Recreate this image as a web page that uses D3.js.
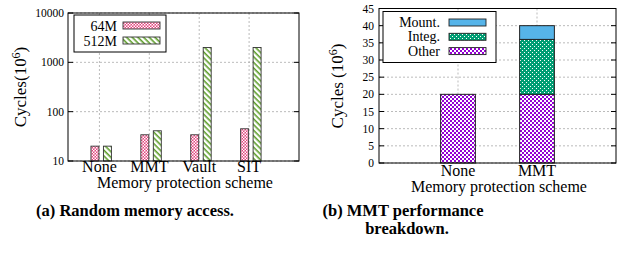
<!DOCTYPE html>
<html>
<head>
<meta charset="utf-8">
<script src="https://cdn.jsdelivr.net/npm/d3@7"></script>
<style>
  body { margin: 0; background: #fff; }
  svg { display: block; font-family: "Liberation Serif", "DejaVu Serif", serif; }
</style>
</head>
<body>
<svg id="fig" width="622" height="254"></svg>
<script>
// panel (a) data
const schemesA = ["None", "MMT", "Vault", "SIT"];
const sizes = ["64M", "512M"];
const cycles64 = [20, 34, 34, 45];
const cycles512 = [20, 41, 2000, 2000];
const logTicks = [10, 100, 1000, 10000];

// panel (b) data
const schemesB = ["None", "MMT"];
const parts = ["Other", "Integ.", "Mount."];
const otherVals = [20, 20];
const integVals = [0, 16];
const mountVals = [0, 4];
const linTicks = [0, 5, 10, 15, 20, 25, 30, 35, 40, 45];

const svg = d3.select("#fig");
const defs = svg.append("defs");

// fill patterns that mimic the gnuplot look
function checker(id, bg, fg, size, dot) {
    const p = defs.append("pattern").attr("id", id)
        .attr("patternUnits", "userSpaceOnUse")
        .attr("width", size).attr("height", size);
    p.append("rect").attr("width", size).attr("height", size).attr("fill", bg);
    p.append("rect").attr("width", dot).attr("height", dot).attr("fill", fg);
    p.append("rect").attr("x", size / 2).attr("y", size / 2).attr("width", dot).attr("height", dot).attr("fill", fg);
}
checker("pink", "#e4467f", "#fff", 3, 1.5);
checker("purple", "#9400d3", "#fff", 4, 2);
checker("teal", "#009e73", "#fff", 4, 1);

const stripe = defs.append("pattern").attr("id", "stripe")
    .attr("patternUnits", "userSpaceOnUse")
    .attr("width", 4).attr("height", 4)
    .attr("patternTransform", "rotate(45)");
stripe.append("rect").attr("width", 4).attr("height", 4).attr("fill", "#fff");
stripe.append("rect").attr("width", 4).attr("height", 1.6).attr("fill", "#5f9e2c");

const fillA = { "64M": "url(#pink)", "512M": "url(#stripe)" };
const fillB = { "Other": "url(#purple)", "Integ.": "url(#teal)", "Mount.": "#56b4e9" };

function frame(g, x0, x1, y0, y1) {
    g.append("rect").attr("x", x0).attr("y", y0)
        .attr("width", x1 - x0).attr("height", y1 - y0)
        .attr("fill", "none").attr("stroke", "#000").attr("stroke-width", 1);
}

function gridLine(g, x1, y1, x2, y2) {
    g.append("line").attr("x1", x1).attr("y1", y1).attr("x2", x2).attr("y2", y2)
        .attr("stroke", "#aaa").attr("stroke-width", 0.8).attr("stroke-dasharray", "2,2");
}

// ---------- panel (a): random memory access ----------
{
    const g = svg.append("g");
    const x = d3.scaleLinear().domain([-0.63, 4]).range([68, 299]);
    const y = d3.scaleLog().domain([10, 10000]).range([161, 13]);

    logTicks.forEach(t => gridLine(g, 68, y(t), 299, y(t)));
    schemesA.forEach((s, i) => gridLine(g, x(i), 13, x(i), 161));

    const bw = 0.16;
    const offs = [-0.09, 0.16];
    [cycles64, cycles512].forEach((vals, k) => {
        g.selectAll(null).data(vals).join("rect")
            .attr("x", (d, i) => x(i + offs[k] - bw / 2))
            .attr("width", x(bw) - x(0))
            .attr("y", d => y(d))
            .attr("height", d => y(10) - y(d))
            .attr("fill", fillA[sizes[k]])
            .attr("stroke", "#333").attr("stroke-width", 0.9);
    });

    frame(g, 68, 299, 13, 161);
    logTicks.forEach(t => {
        g.append("line").attr("x1", 68).attr("x2", 73).attr("y1", y(t)).attr("y2", y(t)).attr("stroke", "#000");
        g.append("line").attr("x1", 294).attr("x2", 299).attr("y1", y(t)).attr("y2", y(t)).attr("stroke", "#000");
    });

    g.selectAll(null).data(logTicks).join("text")
        .attr("x", 64).attr("y", d => y(d) + 4)
        .attr("text-anchor", "end").attr("font-size", 11.5)
        .text(d => d);

    g.selectAll(null).data(schemesA).join("text")
        .attr("x", (d, i) => x(i)).attr("y", 172)
        .attr("text-anchor", "middle").attr("font-size", 16)
        .text(d => d);

    g.append("text").attr("x", 185).attr("y", 188)
        .attr("text-anchor", "middle").attr("font-size", 16)
        .text("Memory protection scheme");

    const yl = g.append("text").attr("transform", "translate(26,87) rotate(-90)")
        .attr("text-anchor", "middle").attr("font-size", 17);
    yl.append("tspan").text("Cycles(10");
    yl.append("tspan").attr("dy", -6).attr("font-size", 12).text("6");
    yl.append("tspan").attr("dy", 6).text(")");

    // legend
    const lg = g.append("g");
    lg.append("rect").attr("x", 74).attr("y", 15).attr("width", 92).attr("height", 37)
        .attr("fill", "#fff").attr("stroke", "#000");
    sizes.forEach((s, i) => {
        const cy = 25.5 + i * 15;
        lg.append("text").attr("x", 117).attr("y", cy + 5)
            .attr("text-anchor", "end").attr("font-size", 14).text(s);
        lg.append("rect").attr("x", 123).attr("y", cy - 3.5).attr("width", 37).attr("height", 7)
            .attr("fill", fillA[s]).attr("stroke", "#333").attr("stroke-width", 0.9);
    });

    svg.append("text").attr("x", 135).attr("y", 216)
        .attr("text-anchor", "middle").attr("font-size", 16.5).attr("font-weight", "bold")
        .text("(a) Random memory access.");
}

// ---------- panel (b): MMT performance breakdown ----------
{
    const g = svg.append("g");
    const x = d3.scaleLinear().domain([-1, 2]).range([379, 616]);
    const y = d3.scaleLinear().domain([0, 45]).range([163, 8.5]);

    linTicks.forEach(t => gridLine(g, 379, y(t), 616, y(t)));
    schemesB.forEach((s, i) => gridLine(g, x(i), 8.5, x(i), 163));

    const stack = d3.stack().keys(parts)(schemesB.map((s, i) => ({
        "Other": otherVals[i], "Integ.": integVals[i], "Mount.": mountVals[i]
    })));
    const bw = 0.44;
    stack.forEach(layer => {
        g.selectAll(null).data(layer.map((d, i) => ({ d, i })).filter(o => o.d[1] > o.d[0])).join("rect")
            .attr("x", o => x(o.i - bw / 2))
            .attr("width", x(bw) - x(0))
            .attr("y", o => y(o.d[1]))
            .attr("height", o => y(o.d[0]) - y(o.d[1]))
            .attr("fill", fillB[layer.key])
            .attr("stroke", "#222").attr("stroke-width", 1);
    });

    frame(g, 379, 616, 8.5, 163);
    linTicks.forEach(t => {
        g.append("line").attr("x1", 379).attr("x2", 384).attr("y1", y(t)).attr("y2", y(t)).attr("stroke", "#000");
        g.append("line").attr("x1", 611).attr("x2", 616).attr("y1", y(t)).attr("y2", y(t)).attr("stroke", "#000");
    });

    g.selectAll(null).data(linTicks).join("text")
        .attr("x", 374).attr("y", d => y(d) + 4)
        .attr("text-anchor", "end").attr("font-size", 11.5)
        .text(d => d);

    g.selectAll(null).data(schemesB).join("text")
        .attr("x", (d, i) => x(i)).attr("y", 176)
        .attr("text-anchor", "middle").attr("font-size", 16)
        .text(d => d);

    g.append("text").attr("x", 499).attr("y", 192)
        .attr("text-anchor", "middle").attr("font-size", 16)
        .text("Memory protection scheme");

    const yl = g.append("text").attr("transform", "translate(343,86) rotate(-90)")
        .attr("text-anchor", "middle").attr("font-size", 17);
    yl.append("tspan").text("Cycles (10");
    yl.append("tspan").attr("dy", -6).attr("font-size", 12).text("6");
    yl.append("tspan").attr("dy", 6).text(")");

    const lg = g.append("g");
    lg.append("rect").attr("x", 383).attr("y", 11.5).attr("width", 113).attr("height", 51)
        .attr("fill", "#fff").attr("stroke", "#000");
    parts.slice().reverse().forEach((p, i) => {
        const cy = 22.5 + i * 14.3;
        lg.append("text").attr("x", 440).attr("y", cy + 4.5)
            .attr("text-anchor", "end").attr("font-size", 14).text(p);
        lg.append("rect").attr("x", 449).attr("y", cy - 3.5).attr("width", 37).attr("height", 7)
            .attr("fill", fillB[p]).attr("stroke", "#222").attr("stroke-width", 0.9);
    });

    svg.append("text").attr("x", 403).attr("y", 216)
        .attr("text-anchor", "middle").attr("font-size", 16.5).attr("font-weight", "bold")
        .text("(b) MMT performance");
    svg.append("text").attr("x", 407).attr("y", 234)
        .attr("text-anchor", "middle").attr("font-size", 16.5).attr("font-weight", "bold")
        .text("breakdown.");
}
</script>
</body>
</html>
